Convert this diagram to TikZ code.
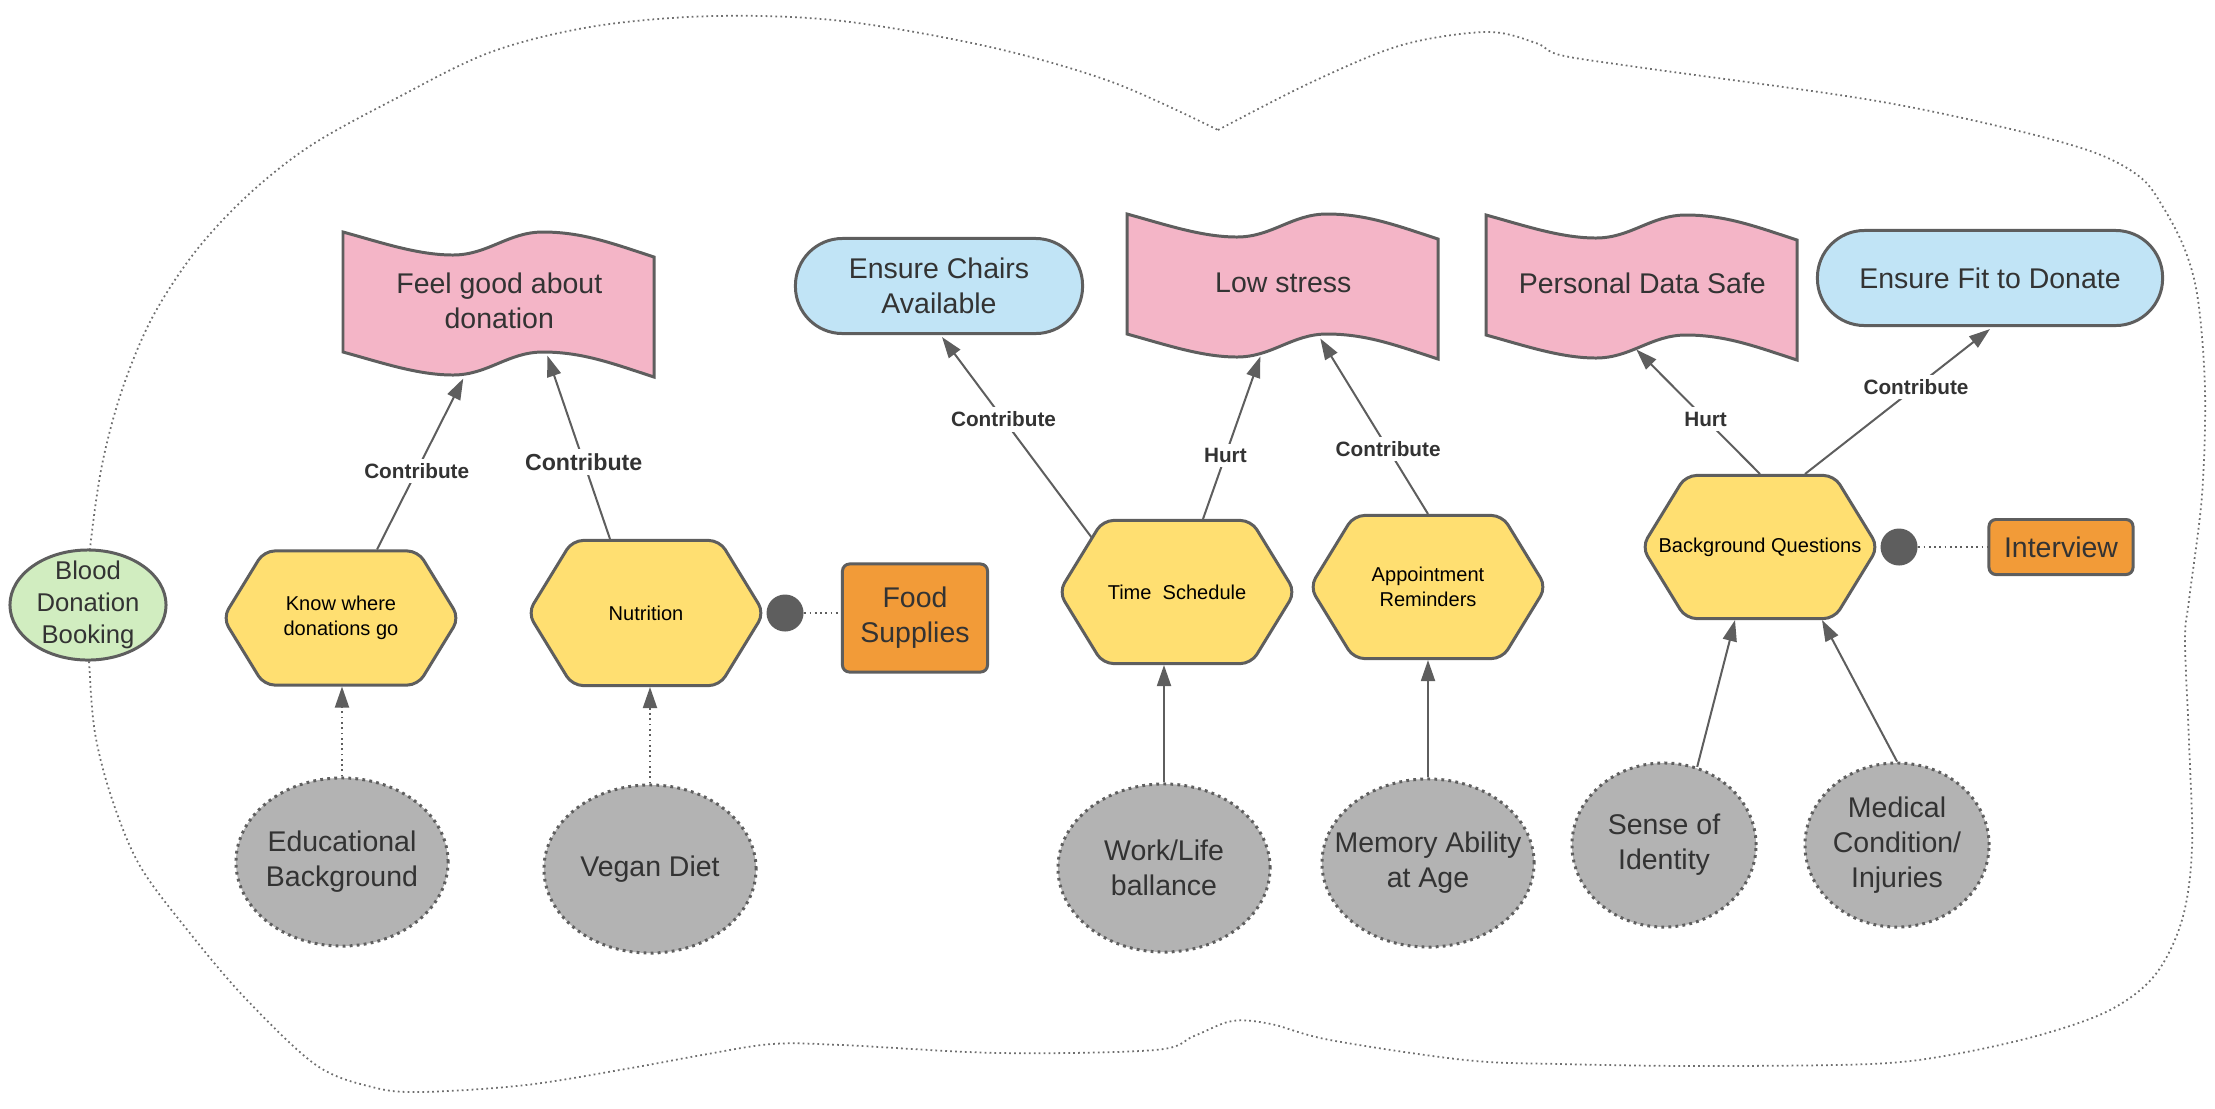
\documentclass[tikz,border=0pt]{standalone}
\usepackage{fontspec}
\setmainfont{Liberation Sans}
\usetikzlibrary{shapes.symbols,shapes.geometric,positioning,calc,arrows.meta}

\definecolor{linegray}{HTML}{5E5E5E}
\definecolor{textgray}{HTML}{333333}
\definecolor{softpink}{HTML}{F4B5C7}
\definecolor{taskyellow}{HTML}{FFDF71}
\definecolor{goalblue}{HTML}{C1E4F6}
\definecolor{resorange}{HTML}{F29B38}
\definecolor{beliefgray}{HTML}{B3B3B3}
\definecolor{actorgreen}{HTML}{D1EDC0}

\tikzset{
  bigtext/.style={text=textgray, align=center, font=\fontsize{8.1}{10}\selectfont},
  task/.style={signal, signal to=west and east, signal pointer angle=117,
    draw=linegray, line width=0.85pt, fill=taskyellow, rounded corners=3pt,
    minimum width=2.36cm, minimum height=1.43cm, inner sep=0pt, align=center,
    font=\fontsize{5.7}{7.1}\selectfont},
  softgoal/.style={bigtext, anchor=north west, minimum width=3.11cm,
    minimum height=1.36cm, inner sep=0pt},
  softfill/.style={draw=linegray, line width=0.85pt, fill=softpink},
  goal/.style={bigtext, draw=linegray, line width=0.85pt, fill=goalblue,
    rounded corners=0.47cm, minimum height=0.95cm, inner sep=0pt},
  resource/.style={bigtext, draw=linegray, line width=0.85pt, fill=resorange,
    rounded corners=2pt, inner sep=0pt},
  belief/.style={ellipse, draw=linegray, line width=0.85pt,
    dash pattern=on 0.8pt off 1.2pt, fill=beliefgray, minimum width=2.12cm,
    minimum height=1.68cm, inner sep=0pt, label={[bigtext]center:#1}},
  actor/.style={ellipse, draw=linegray, line width=0.85pt, fill=actorgreen,
    minimum width=1.56cm, minimum height=1.1cm, inner sep=0pt,
    label={[text=textgray, align=center, font=\fontsize{7.3}{9.1}\selectfont]center:#1}},
  dot/.style={circle, fill=linegray, minimum size=0.37cm, inner sep=0pt},
  link/.style={draw=linegray, line width=0.57pt, -{Triangle[length=6pt,width=4pt]}},
  dottedlink/.style={link, dash pattern=on 0.5pt off 1pt},
  means/.style={draw=linegray, line width=0.57pt, dash pattern=on 0.5pt off 1pt},
  boundary/.style={draw=linegray!90, line width=0.5pt, dash pattern=on 0.5pt off 0.9pt},
  tag/.style={fill=white, text=textgray, inner sep=1.3pt,
    font=\bfseries\fontsize{5.9}{7}\selectfont},
}

% wavy softgoal: name, north west corner, text
\newcommand\softgoal[3]{%
  \draw[softfill, shift={#2}] (0,0) .. controls (40,11) and (75,23) .. (110,23)
    .. controls (145,23) and (165,0) .. (200,0)
    .. controls (240,0) and (271,12) .. (311,25) -- (311,145)
    .. controls (271,132) and (240,120) .. (200,120)
    .. controls (165,120) and (145,143) .. (110,143)
    .. controls (75,143) and (40,131) .. (0,120) -- cycle;
  \node[softgoal] (#1) at #2 {#3};
}

\begin{document}
\begin{tikzpicture}[x=0.01cm, y=-0.01cm]
  \useasboundingbox (0,0) rectangle (2215,1108);

  % actor boundary
  \draw[boundary] plot[smooth, tension=0.55] coordinates {
    (1218,130) (1312,82) (1402,45) (1487,32) (1536,43) (1560,55) (1637,67)
    (1865,99) (2002,127) (2093,152) (2140,177) (2163,207) (2185,250)
    (2198,300) (2205,390) (2202,495) (2189,600) (2185,640) (2189,742)
    (2192,848) (2182,920) (2155,975) (2110,1010) (2040,1035) (1950,1055)
    (1870,1064) (1700,1066) (1560,1064) (1465,1060) (1330,1040) (1271,1024)
    (1232,1021) (1194,1036) (1155,1050) (1000,1053) (842,1045) (772,1044)
    (702,1055) (631,1068) (526,1085) (421,1092) (372,1087) (316,1065)
    (246,999) (189,932) (140,866) (112,799) (95,733) (89,661) (87,605)
    (90,549) (102,465) (122,390) (152,318) (195,252) (248,195) (310,146)
    (393,100) (491,52) (596,26) (716,16) (842,21) (990,47) (1112,82)
    (1218,130)};

  \node[actor={Blood\\Donation\\Booking}] (booking) at (88,605) {};

  % softgoals and goals
  \softgoal{feel}{(343,232)}{Feel good about\\donation}
  \softgoal{calm}{(1127,214)}{Low stress}
  \softgoal{privacy}{(1486,215)}{Personal Data Safe}
  \node[goal, minimum width=2.87cm] (chairs) at (939,286) {Ensure Chairs\\Available};
  \node[goal, minimum width=3.45cm] (fit) at (1990,278) {Ensure Fit to Donate};

  % tasks
  \node[task, minimum height=1.34cm] (where) at (341,618) {Know where\\donations go};
  \node[task, minimum height=1.45cm] (nutri) at (646,613) {Nutrition};
  \node[task] (sched) at (1177,592) {Time~ Schedule};
  \node[task] (remind) at (1428,587) {Appointment\\Reminders};
  \node[task] (quest) at (1760,547) {\makebox[0pt]{Background Questions}};

  % resources
  \node[dot, right=0pt of nutri] (nutridot) {};
  \node[dot, right=0pt of quest] (questdot) {};
  \node[resource, minimum width=1.45cm, minimum height=1.08cm] (supply) at (915,618) {Food\\Supplies};
  \node[resource, minimum width=1.44cm, minimum height=0.55cm] (interview) at (2061,547) {Interview};

  % beliefs
  \node[belief={Educational\\Background}] (edu) at (342,862) {};
  \node[belief={Vegan Diet}] (vegan) at (650,869) {};
  \node[belief={Work/Life\\ballance}] (worklife) at (1164,868) {};
  \node[belief={Memory Ability\\at Age}] (memory) at (1428,863) {};
  \node[belief={Sense of\\Identity}, minimum width=1.84cm, minimum height=1.64cm] (identity) at (1664,845) {};
  \node[belief={Medical\\Condition/\\Injuries}, minimum width=1.84cm, minimum height=1.64cm] (medical) at (1897,845) {};

  % contributions
  \draw[link] ($(where.north)+(36,0)$) -- node[tag, pos=0.46] {Contribute} ($(feel.south)+(-36,9)$);
  \draw[link] ($(nutri.north)+(-36,0)$) -- node[tag, pos=0.42, font=\bfseries\fontsize{6.6}{8}\selectfont] {Contribute} ($(feel.south)+(48,-14)$);
  \draw[link] ($(sched.center)+(-85,-54)$) -- node[tag, pos=0.59] {Contribute} ($(chairs.south)+(3,2)$);
  \draw[link] ($(sched.north)+(26,0)$) -- node[tag, pos=0.39] {Hurt} ($(calm.south)+(-23,5)$);
  \draw[link] (remind.north) -- node[tag, pos=0.37] {Contribute} ($(calm.south)+(37,-13)$);
  \draw[link] (quest.north) -- node[tag, pos=0.44] {Hurt} ($(privacy.south)+(-6,-3)$);
  \draw[link] ($(quest.north)+(45,0)$) -- node[tag, pos=0.6] {Contribute} ($(fit.south)+(0,2)$);

  % belief links
  \draw[dottedlink] (edu.north) -- (edu.north |- where.south);
  \draw[dottedlink] (vegan.north) -- (vegan.north |- nutri.south);
  \draw[link] (worklife.north) -- (worklife.north |- sched.south);
  \draw[link] (memory.north) -- (memory.north |- remind.south);
  \draw[link] (identity.67) -- ($(quest.south)+(-25,0)$);
  \draw[link] (medical.north) -- ($(quest.south)+(62,0)$);

  % resource links
  \draw[means] (nutridot.east) -- (nutridot.east -| supply.west);
  \draw[means] (questdot) -- (interview);
\end{tikzpicture}
\end{document}
